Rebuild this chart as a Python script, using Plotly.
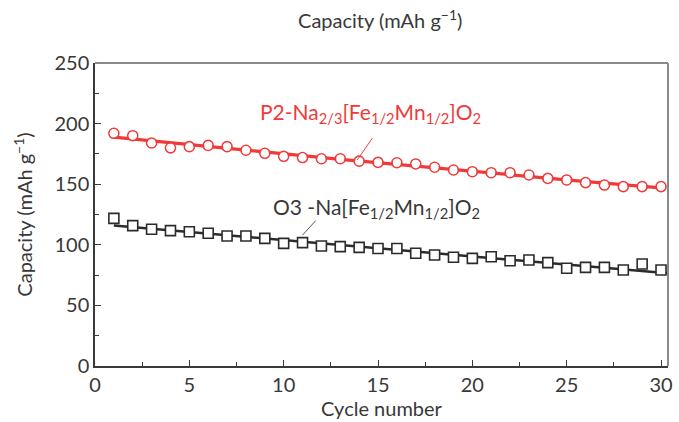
import numpy as np
import plotly.graph_objects as go

cycles = list(range(1, 31))
p2_capacity = [192, 190, 184, 180, 181, 182, 181, 178, 175.5, 173, 172, 171, 171, 169, 168,
               167.7, 166.7, 164, 161.7, 160.3, 159.5, 159.5, 157.6, 154.8, 153.5, 151.3,
               149.3, 148, 148, 148]
o3_capacity = [121.8, 115.8, 112.8, 111.7, 110.8, 109.5, 107.3, 107.3, 105.3, 101.2, 101.8,
               99, 98.5, 97.9, 97, 97, 93, 91.6, 89.7, 88.8, 90.2, 86.9, 87.5, 85.3, 80.6,
               81.4, 81.4, 79.2, 84.2, 79.2]
x_ticks = [0, 5, 10, 15, 20, 25, 30]
y_ticks = [0, 50, 100, 150, 200, 250]

FONT = "Lato"
RED = "#f03a3a"
BLACK = "#2b2b2b"
TXT = "#383838"

fig = go.Figure()

# fitted trend lines
cx = np.array(cycles, dtype=float)
p2_fit = np.polyfit(cx, p2_capacity, 2)
o3_fit = np.polyfit(cx, o3_capacity, 1)
xf_p2 = np.linspace(1, 30, 60)
xf_o3 = np.linspace(1, 30.37, 60)
fig.add_trace(go.Scatter(x=xf_p2, y=np.polyval(p2_fit, xf_p2), mode="lines",
                         line=dict(color=RED, width=3.2), showlegend=False, hoverinfo="skip"))
fig.add_trace(go.Scatter(x=xf_o3, y=np.polyval(o3_fit, xf_o3), mode="lines",
                         line=dict(color=BLACK, width=2.5), showlegend=False, hoverinfo="skip"))

fig.add_trace(go.Scatter(x=cycles, y=p2_capacity, mode="markers", name="P2",
                         marker=dict(symbol="circle-open", size=10, color=RED,
                                     line=dict(width=1.6, color=RED)),
                         showlegend=False))
fig.add_trace(go.Scatter(x=cycles, y=p2_capacity, mode="markers", showlegend=False,
                         marker=dict(symbol="circle", size=8, color="white"), hoverinfo="skip"))
fig.add_trace(go.Scatter(x=cycles, y=o3_capacity, mode="markers", showlegend=False,
                         marker=dict(symbol="square", size=10, color="white",
                                     line=dict(width=1.6, color=BLACK))))

# labels
fig.add_annotation(x=14.6, y=209, xref="x", yref="y", showarrow=False,
                   text="P2-Na<sub>2/3</sub>[Fe<sub>1/2</sub>Mn<sub>1/2</sub>]O<sub>2</sub>",
                   font=dict(family=FONT, size=21, color=RED))
fig.add_annotation(x=14.9, y=130, xref="x", yref="y", showarrow=False,
                   text="O3 -Na[Fe<sub>1/2</sub>Mn<sub>1/2</sub>]O<sub>2</sub>",
                   font=dict(family=FONT, size=21, color=TXT))
# leader lines
fig.add_shape(type="line", x0=13.9, y0=170, x1=14.7, y1=188, xref="x", yref="y",
              line=dict(color=RED, width=1))
fig.add_shape(type="line", x0=11.0, y0=108, x1=11.7, y1=120, xref="x", yref="y",
              line=dict(color="#555555", width=1))

# top/right frame
fig.add_shape(type="line", x0=0, y0=1, x1=1, y1=1, xref="paper", yref="paper",
              line=dict(color="#8a8a8a", width=2))
fig.add_shape(type="line", x0=1, y0=0, x1=1, y1=1, xref="paper", yref="paper",
              line=dict(color="#8a8a8a", width=2))

axis_common = dict(showgrid=False, zeroline=False, showline=True, linecolor="#3a3a3a",
                   linewidth=1.5, ticks="inside", ticklen=6, tickwidth=1.2, tickcolor="#3a3a3a",
                   tickfont=dict(family=FONT, size=20, color=TXT))
fig.update_xaxes(range=[0, 30.37], tickvals=x_ticks,
                 minor=dict(ticks="inside", ticklen=4, tickwidth=1, tickcolor="#3a3a3a", dtick=2.5, tick0=0),
                 title=dict(text="Cycle number", font=dict(family=FONT, size=20, color=TXT), standoff=4),
                 **axis_common)
fig.update_yaxes(range=[0, 250], tickvals=y_ticks,
                 minor=dict(ticks="inside", ticklen=4, tickwidth=1, tickcolor="#3a3a3a", dtick=25, tick0=0),
                 title=dict(text="Capacity (mAh g<sup>\u22121</sup>)", font=dict(family=FONT, size=20, color=TXT), standoff=16),
                 **axis_common)

fig.update_layout(width=679, height=422, margin=dict(l=95, r=6, t=63, b=56),
                  paper_bgcolor="white", plot_bgcolor="white",
                  title=dict(text="Capacity (mAh g<sup>\u22121</sup>)", x=0.56, xanchor="center",
                             y=0.95, yanchor="middle",
                             font=dict(family=FONT, size=20, color=TXT)))

fig.write_html("out.html")
